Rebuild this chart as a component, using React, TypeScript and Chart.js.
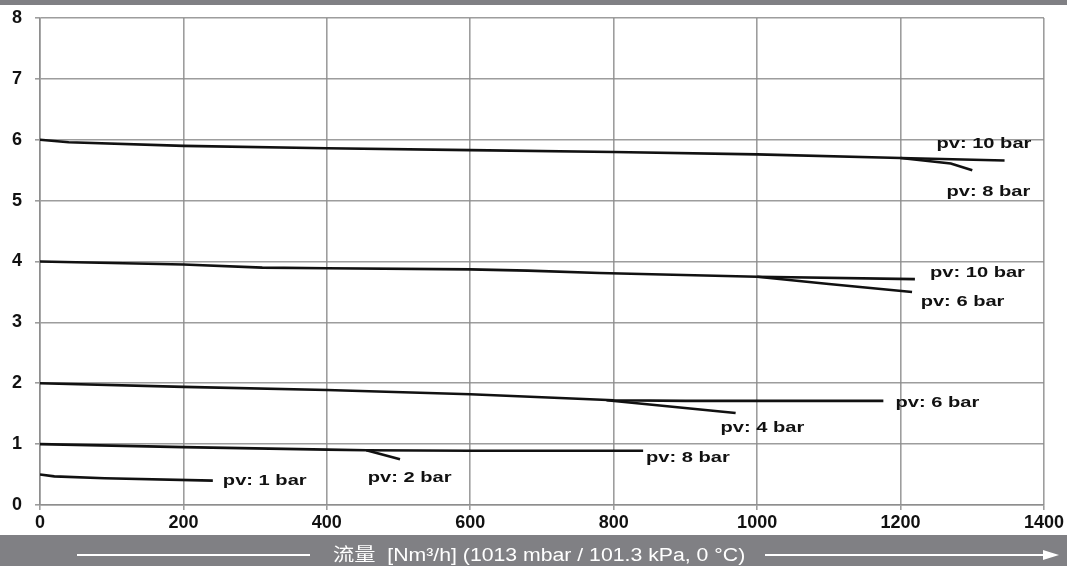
import { useEffect, useRef } from "react";
import { Chart, registerables } from "chart.js";

Chart.register(...registerables);

// ---- data (flow Nm³/h vs pressure drop) ----
const xTicks = [0, 200, 400, 600, 800, 1000, 1200, 1400];
const yTicks = [0, 1, 2, 3, 4, 5, 6, 7, 8];

// top curve group
const flowTop10 = [0, 40, 200, 400, 600, 800, 1000, 1200, 1345];
const dpTop10 = [6.0, 5.96, 5.9, 5.86, 5.83, 5.8, 5.76, 5.7, 5.66];
const flowTop8 = [1200, 1270, 1300];
const dpTop8 = [5.7, 5.61, 5.5];

// middle curve group
const flowMid10 = [0, 200, 310, 400, 600, 680, 780, 1000, 1220];
const dpMid10 = [4.0, 3.95, 3.9, 3.89, 3.87, 3.85, 3.81, 3.75, 3.71];
const flowMid6 = [1000, 1100, 1216];
const dpMid6 = [3.75, 3.63, 3.5];

// lower curve group
const flowLow6 = [0, 200, 400, 600, 800, 900, 1176];
const dpLow6 = [2.0, 1.94, 1.89, 1.82, 1.72, 1.71, 1.71];
const flowLow4 = [790, 970];
const dpLow4 = [1.72, 1.51];

// bottom curve group
const flowBot8 = [0, 200, 400, 455, 600, 841];
const dpBot8 = [1.0, 0.95, 0.91, 0.9, 0.89, 0.89];
const flowBot2 = [455, 502];
const dpBot2 = [0.9, 0.75];

// pv 1 bar curve
const flowPv1 = [0, 20, 90, 241];
const dpPv1 = [0.5, 0.47, 0.44, 0.4];

// curve labels
const labelTexts = ["pv: 10 bar", "pv: 8 bar", "pv: 10 bar", "pv: 6 bar", "pv: 6 bar", "pv: 4 bar", "pv: 8 bar", "pv: 2 bar", "pv: 1 bar"];
const labelX = [1250, 1264, 1241, 1228, 1193, 949, 845, 457, 255];
const labelY = [5.86, 5.08, 3.75, 3.27, 1.61, 1.2, 0.71, 0.38, 0.33];

const axisTitle = "流量  [Nm³/h] (1013 mbar / 101.3 kPa, 0 °C)";

const GRAY = "#808084";
const GRID = "rgba(140,140,140,0.85)";

const pts = (xs: number[], ys: number[]) => xs.map((x, i) => ({ x, y: ys[i] }));

const decor = {
  id: "decor",
  beforeDraw(chart: any) {
    const { ctx, width, height } = chart;
    ctx.save();
    ctx.fillStyle = "#ffffff";
    ctx.fillRect(0, 0, width, height);
    ctx.fillStyle = GRAY;
    ctx.fillRect(0, 0, width, 5);
    ctx.fillRect(0, 535, width, height - 535);
    ctx.restore();
  },
  afterDraw(chart: any) {
    const { ctx } = chart;
    const xs = chart.scales.x;
    const ys = chart.scales.y;
    ctx.save();
    ctx.fillStyle = "#111";
    ctx.font = 'bold 15px "Liberation Sans", Arial, sans-serif';
    ctx.textAlign = "left";
    ctx.textBaseline = "alphabetic";
    labelTexts.forEach((t, i) => {
      const px = xs.getPixelForValue(labelX[i]);
      const py = ys.getPixelForValue(labelY[i]);
      ctx.save();
      ctx.translate(px, py);
      ctx.scale(1.34, 1);
      ctx.fillText(t, 0, 0);
      ctx.restore();
    });
    // bottom axis title
    ctx.fillStyle = "#ffffff";
    ctx.font = '18px "Liberation Sans", "Noto Sans CJK SC", sans-serif';
    ctx.save();
    ctx.translate(333, 561);
    ctx.scale(1.18, 1);
    ctx.fillText(axisTitle, 0, 0);
    ctx.restore();
    // arrow lines
    ctx.strokeStyle = "#ffffff";
    ctx.lineWidth = 2;
    ctx.beginPath();
    ctx.moveTo(77, 555);
    ctx.lineTo(310, 555);
    ctx.moveTo(765, 555);
    ctx.lineTo(1046, 555);
    ctx.stroke();
    ctx.beginPath();
    ctx.fillStyle = "#ffffff";
    ctx.moveTo(1059, 555);
    ctx.lineTo(1043, 550);
    ctx.lineTo(1043, 560);
    ctx.closePath();
    ctx.fill();
    ctx.restore();
  },
};

export default function App() {
  const ref = useRef<HTMLCanvasElement | null>(null);
  useEffect(() => {
    if (!ref.current) return;
    const series = [
      pts(flowTop10, dpTop10),
      pts(flowTop8, dpTop8),
      pts(flowMid10, dpMid10),
      pts(flowMid6, dpMid6),
      pts(flowLow6, dpLow6),
      pts(flowLow4, dpLow4),
      pts(flowBot8, dpBot8),
      pts(flowBot2, dpBot2),
      pts(flowPv1, dpPv1),
    ];
    const tickFont = { family: '"Liberation Sans", Arial, sans-serif', weight: "bold" as const, size: 18 };
    const chart = new Chart(ref.current, {
      type: "line",
      data: {
        datasets: series.map((d) => ({
          data: d,
          borderColor: "#111111",
          borderWidth: 2.6,
          pointRadius: 0,
          tension: 0,
          fill: false,
        })),
      },
      options: {
        animation: false,
        responsive: false,
        layout: { padding: { left: 0, top: 18, right: 23, bottom: 0 } },
        plugins: { legend: { display: false }, tooltip: { enabled: false } },
        scales: {
          x: {
            type: "linear",
            min: 0,
            max: 1400,
            afterFit: (s: any) => {
              s.height = 61;
            },
            afterBuildTicks: (s: any) => {
              s.ticks = xTicks.map((v) => ({ value: v }));
            },
            grid: { color: GRID, lineWidth: 1.6, tickLength: 5, tickColor: GRID },
            border: { color: GRID, width: 1.6 },
            ticks: { color: "#111", font: tickFont, padding: 2, maxRotation: 0, callback: (v: any) => String(v) },
          },
          y: {
            type: "linear",
            min: 0,
            max: 8,
            afterFit: (s: any) => {
              s.width = 40;
              s.paddingTop = 0;
              s.paddingBottom = 0;
            },
            afterBuildTicks: (s: any) => {
              s.ticks = yTicks.map((v) => ({ value: v }));
            },
            grid: { color: GRID, lineWidth: 1.6, tickLength: 5, tickColor: GRID },
            border: { color: GRID, width: 1.6 },
            ticks: { color: "#111", font: tickFont, padding: 13, callback: (v: any) => String(v) },
          },
        },
      },
      plugins: [decor],
    });
    return () => chart.destroy();
  }, []);
  return (
    <div style={{ position: "fixed", left: 0, top: 0, width: 1067, height: 566, background: "#fff" }}>
      <canvas ref={ref} width={1067} height={566} style={{ display: "block" }} />
    </div>
  );
}
